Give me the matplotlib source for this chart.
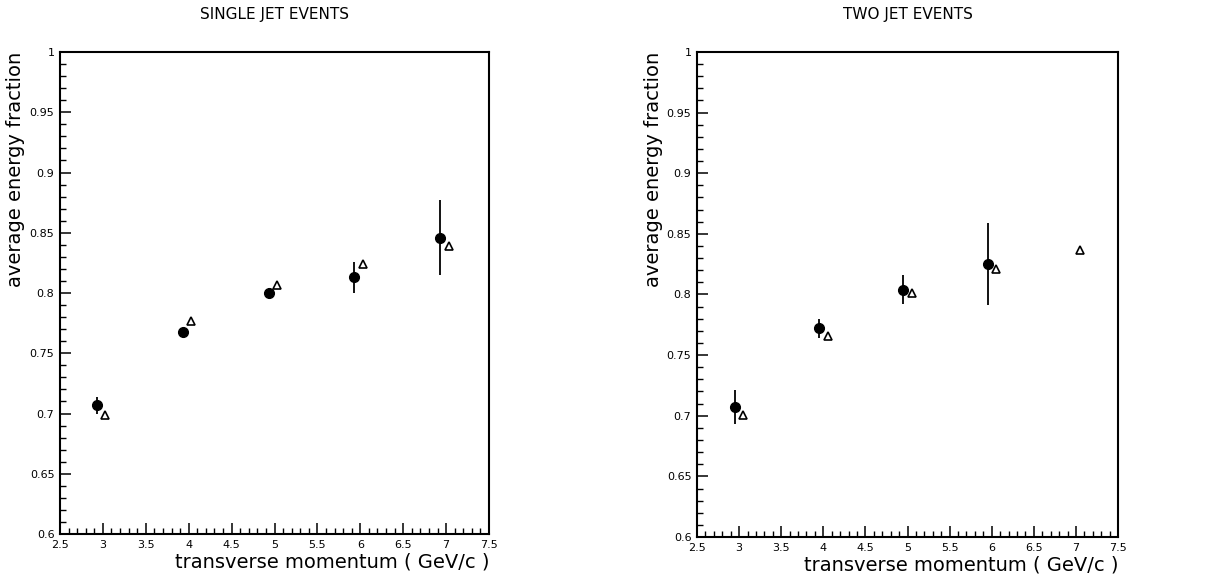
import matplotlib.pyplot as plt
import numpy as np
from matplotlib.ticker import MultipleLocator

# single jet events
single_x_dat = [2.93, 3.93, 4.93, 5.93, 6.93]
single_y_dat = [0.707, 0.768, 0.800, 0.813, 0.846]
single_err = [0.007, 0.002, 0.004, 0.013, 0.031]
single_x_mc = [3.03, 4.03, 5.03, 6.03, 7.03]
single_y_mc = [0.699, 0.777, 0.807, 0.824, 0.839]

# two jet events
two_x_dat = [2.95, 3.95, 4.95, 5.95]
two_y_dat = [0.707, 0.772, 0.804, 0.825]
two_err = [0.014, 0.008, 0.012, 0.034]
two_x_mc = [3.05, 4.05, 5.05, 6.05, 7.05]
two_y_mc = [0.701, 0.766, 0.801, 0.821, 0.837]

titles = ['SINGLE JET EVENTS', 'TWO JET EVENTS']
yticks = [0.6, 0.65, 0.7, 0.75, 0.8, 0.85, 0.9, 0.95, 1.0]
ylabels = ['0.6', '0.65', '0.7', '0.75', '0.8', '0.85', '0.9', '0.95', '1']
xticks = [2.5, 3, 3.5, 4, 4.5, 5, 5.5, 6, 6.5, 7, 7.5]
xlabels = ['2.5', '3', '3.5', '4', '4.5', '5', '5.5', '6', '6.5', '7', '7.5']

fig = plt.figure(figsize=(12.19, 5.88), dpi=100)
ax1 = fig.add_axes([0.0492, 0.0918, 0.352, 0.8197])
ax2 = fig.add_axes([0.5718, 0.0867, 0.3454, 0.825])

panels = [
    (ax1, single_x_dat, single_y_dat, single_err, single_x_mc, single_y_mc, -0.082),
    (ax2, two_x_dat, two_y_dat, two_err, two_x_mc, two_y_mc, -0.081),
]

for i, (ax, xd, yd, ed, xm, ym, lx) in enumerate(panels):
    ax.errorbar(xd, yd, yerr=ed, fmt='o', color='black', ms=7,
                elinewidth=1.3, capsize=0)
    ax.plot(xm, ym, '^', mfc='white', mec='black', ms=6, mew=1.2)
    ax.set_xlim(2.5, 7.5)
    ax.set_ylim(0.6, 1.0)
    ax.set_xticks(xticks)
    ax.set_xticklabels(xlabels, fontsize=8)
    ax.set_yticks(yticks)
    ax.set_yticklabels(ylabels, fontsize=8)
    ax.xaxis.set_minor_locator(MultipleLocator(0.1))
    ax.yaxis.set_minor_locator(MultipleLocator(0.01))
    ax.tick_params(which='both', direction='in', top=False, right=False)
    ax.tick_params(which='major', length=8, width=1.1, pad=4)
    ax.tick_params(which='minor', length=4, width=1.0)
    for s in ax.spines.values():
        s.set_linewidth(1.5)
    ax.set_title(titles[i], fontsize=11, pad=24)
    ax.set_xlabel('transverse momentum ( GeV/c )', fontsize=14, loc='right',
                  labelpad=2)
    ax.set_ylabel('average energy fraction', fontsize=14, loc='top')
    ax.yaxis.set_label_coords(lx, 1.0)

fig.savefig('out.png', dpi=100)
